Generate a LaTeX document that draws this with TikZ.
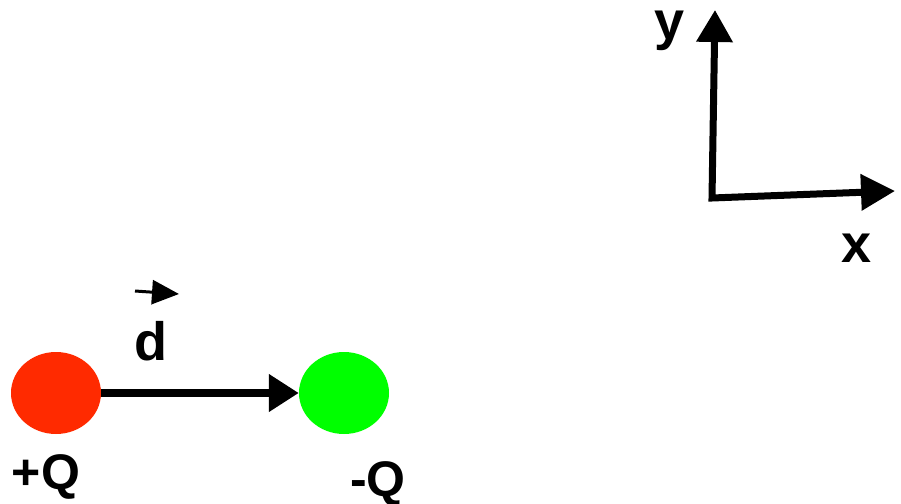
\documentclass[tikz,border=0pt]{standalone}
\usepackage{fontspec}
\setmainfont{Liberation Sans}
\usetikzlibrary{arrows.meta,shapes.geometric}
\definecolor{qred}{HTML}{FF2A00}
\definecolor{qgreen}{HTML}{00FF00}
\begin{document}
\begin{tikzpicture}[x=1pt,y=-1pt,
  charge/.style={ellipse,minimum width=90pt,minimum height=82pt,inner sep=0pt},
  biglabel/.style={font=\fontsize{54}{60}\selectfont\bfseries,inner sep=0pt},
  qlabel/.style={font=\fontsize{50}{56}\selectfont\bfseries,inner sep=0pt},
  axis/.style={line width=7pt,line join=miter,{Triangle[length=32pt,width=35pt]}-{Triangle[length=34pt,width=35pt]}},
  dipole/.style={line width=8pt,-{Triangle[length=30pt,width=36pt]}},
  vecmark/.style={line width=3pt,-{Triangle[length=27pt,width=24pt]}}]
\useasboundingbox (0,0) rectangle (901,503);
\node[charge,fill=qred] (q1) at (56,393) {};
\node[charge,fill=qgreen] (q2) at (344,393) {};
\draw[dipole] (q1.east) -- (q2.west);
\coordinate (ytip) at (715,10);
\coordinate (o) at (712,198);
\coordinate (xtip) at (895,191);
\draw[axis] (ytip) -- (o) -- (xtip);
\coordinate (dv1) at (135,291);
\coordinate (dv2) at (179,294);
\draw[vecmark] (dv1) -- (dv2);
\node[biglabel,anchor=base] (ly) at (670,40) {y};
\node[biglabel,anchor=base] (lx) at (857,262) {x};
\node[biglabel,anchor=base] (ld) at (151,360) {d};
\node[qlabel,anchor=base] (lp) at (46,489) {+Q};
\node[qlabel,anchor=base] (lm) at (378,496) {-Q};
\end{tikzpicture}
\end{document}
